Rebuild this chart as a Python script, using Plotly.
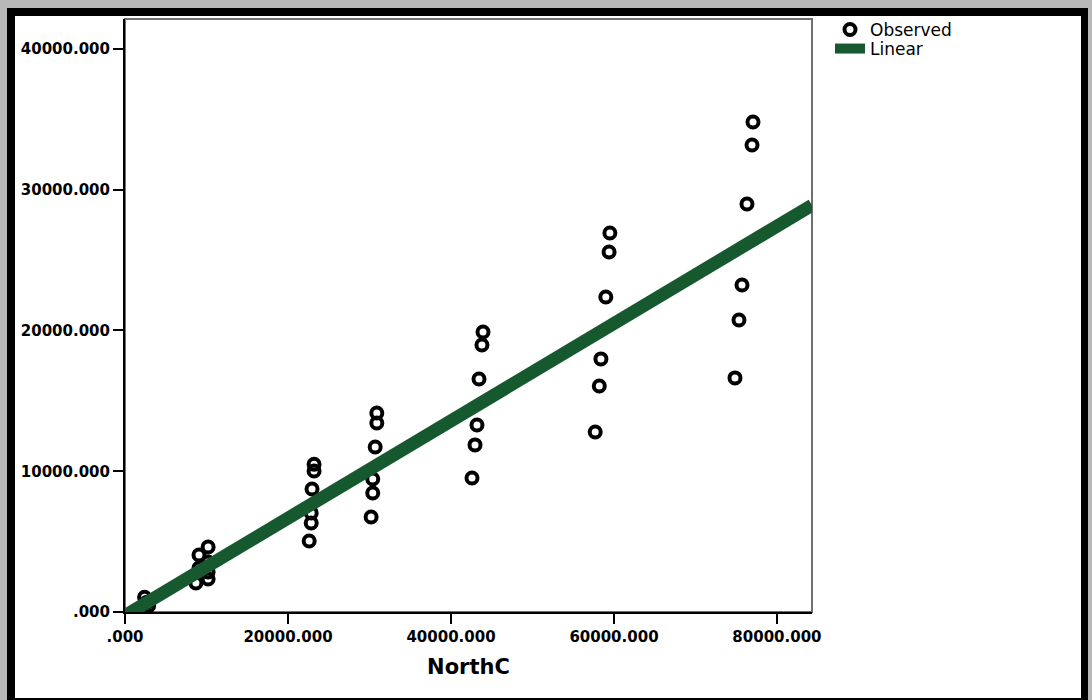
import plotly.graph_objects as go

# ---- data ----
north_c = [2400, 2700, 2900,
           8700, 9080, 9080, 10200, 10200, 10200, 10200,
           23200, 23200, 22950, 22850, 22850, 22600,
           30900, 30900, 30700, 30400, 30400, 30200,
           43930, 43800, 43440, 43190, 42950, 42580,
           59500, 59400, 59000, 58400, 58200, 57700,
           77060, 76940, 76320, 75710, 75340, 74850]
observed = [1050, 700, 450,
            2060, 4050, 3130, 4620, 3550, 2840, 2340,
            10500, 10020, 8740, 7030, 6320, 5040,
            14140, 13430, 11720, 9450, 8450, 6750,
            19890, 18970, 16550, 13290, 11870, 9520,
            26930, 25580, 22380, 17980, 16060, 12790,
            34810, 33180, 28990, 23230, 20750, 16630]
linear_x = [0, 84300]
linear_y = [-250, 28900]

x_tickvals = [0, 20000, 40000, 60000, 80000]
x_ticktext = [".000", "20000.000", "40000.000", "60000.000", "80000.000"]
y_tickvals = [0, 10000, 20000, 30000, 40000]
y_ticktext = [".000", "10000.000", "20000.000", "30000.000", "40000.000"]

# ---- layout geometry (pixels) ----
W, H = 1092, 700
L, R, T, B = 125, 812, 19, 612
pw, ph = R - L, B - T


def px(xp):
    return (xp - L) / pw


def py(yp):
    return (B - yp) / ph


fig = go.Figure()
fig.add_trace(go.Scatter(
    x=north_c, y=observed, mode="markers", name="Observed",
    legend="legend",
    marker=dict(symbol="circle-open", size=11, color="black",
                line=dict(width=4, color="black")),
))
fig.add_trace(go.Scatter(
    x=linear_x, y=linear_y, mode="lines", name="Linear",
    legend="legend2",
    line=dict(color="#17592f", width=13),
))

shapes = [
    dict(type="rect", xref="paper", yref="paper",
         x0=px(7), x1=px(1088), y0=py(700), y1=py(8),
         fillcolor="black", line=dict(width=0), layer="below"),
    dict(type="rect", xref="paper", yref="paper",
         x0=px(15), x1=px(1081), y0=py(698), y1=py(16),
         fillcolor="white", line=dict(width=0), layer="below"),
    dict(type="rect", xref="paper", yref="paper",
         x0=0, x1=1, y0=0, y1=1,
         fillcolor="rgba(0,0,0,0)", line=dict(width=2, color="#707070"),
         layer="below"),
]

tickfont = dict(family="DejaVu Sans", size=15, color="black", weight="bold")
legfont = dict(family="DejaVu Sans", size=17, color="black")

fig.update_layout(
    width=W, height=H,
    margin=dict(l=L, r=W - R, t=T, b=H - B, pad=0),
    paper_bgcolor="#b8b8b8",
    plot_bgcolor="rgba(0,0,0,0)",
    shapes=shapes,
    showlegend=True,
    legend=dict(x=px(830), y=py(12), xanchor="left", yanchor="top",
                bgcolor="rgba(0,0,0,0)", font=legfont, itemsizing="trace"),
    legend2=dict(x=px(830), y=py(31), xanchor="left", yanchor="top",
                 bgcolor="rgba(0,0,0,0)", font=legfont, itemsizing="trace"),
    xaxis=dict(range=[0, 84300], tickvals=x_tickvals, ticktext=x_ticktext,
               showgrid=False, zeroline=False, showline=True,
               linecolor="black", linewidth=2,
               ticks="outside", ticklen=10, tickwidth=2, tickcolor="black",
               tickfont=tickfont,
               title=dict(text="NorthC", standoff=14,
                          font=dict(family="DejaVu Sans", size=21,
                                    color="black", weight="bold"))),
    yaxis=dict(range=[0, 42130], tickvals=y_tickvals, ticktext=y_ticktext,
               showgrid=False, zeroline=False, showline=True,
               linecolor="black", linewidth=2,
               ticks="outside", ticklen=10, tickwidth=2, tickcolor="black",
               tickfont=tickfont),
)

fig.write_html("out.html",
               config={"displayModeBar": False},
               post_script="document.body.style.margin='0px';"
                           "document.body.style.overflow='hidden';")
